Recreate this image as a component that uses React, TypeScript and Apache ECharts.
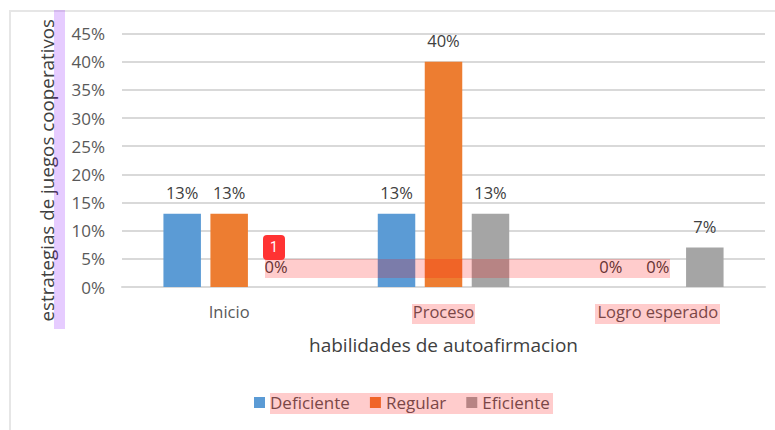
import React, { useEffect, useRef } from "react";
import * as echarts from "echarts";

const categories = ["Inicio", "Proceso", "Logro esperado"];
const deficiente = [13, 13, 0];
const regular = [13, 40, 0];
const eficiente = [0, 13, 7];
const yTitle = "estrategias de juegos cooperativos";
const xTitle = "habilidades de autoafirmacion";
const FONT = "Open Sans";

const pink = "rgba(255,0,0,0.2)";
const highlightBoxes = [
  [265, 259, 405, 19],
  [412, 304, 63, 20],
  [595, 304, 125, 20],
  [270, 393, 283, 21],
];

function bar(name: string, data: number[], color: string) {
  return {
    name,
    type: "bar",
    data,
    barWidth: 37.5,
    barGap: "25.3%",
    itemStyle: { color },
    label: {
      show: true,
      position: "top",
      distance: 12.5,
      formatter: "{c}%",
      fontFamily: FONT,
      fontSize: 16.5,
      color: "#404040",
    },
  };
}

export default function App() {
  const ref = useRef<HTMLDivElement>(null);
  useEffect(() => {
    const chart = echarts.init(ref.current!, null, { renderer: "svg" });
    chart.setOption({
      animation: false,
      backgroundColor: "#ffffff",
      textStyle: { fontFamily: FONT },
      grid: { left: 122, right: 10, top: 33.5, bottom: 143 },
      legend: {
        left: 249,
        top: 389,
        itemWidth: 11,
        itemHeight: 11,
        itemGap: 20,
        icon: "rect",
        textStyle: { fontFamily: FONT, fontSize: 17, color: "#595959" },
        data: ["Deficiente", "Regular", "Eficiente"],
      },
      xAxis: {
        type: "category",
        data: categories,
        name: xTitle,
        nameLocation: "middle",
        nameGap: 48,
        nameTextStyle: { fontFamily: FONT, fontSize: 19, color: "#404040" },
        axisTick: { show: false },
        axisLine: { lineStyle: { color: "#d9d9d9", width: 2 } },
        axisLabel: { fontFamily: FONT, fontSize: 16.5, color: "#595959", margin: 16 },
      },
      yAxis: {
        type: "value",
        min: 0,
        max: 45,
        interval: 5,
        name: yTitle,
        nameLocation: "middle",
        nameGap: 66,
        nameTextStyle: { fontFamily: FONT, fontSize: 18.8, color: "#404040", padding: [0, 20, 0, 0] },
        axisLine: { show: false },
        axisTick: { show: false },
        splitLine: { lineStyle: { color: "#d9d9d9", width: 2 } },
        axisLabel: { fontFamily: FONT, fontSize: 17, color: "#595959", formatter: "{value}%", margin: 17 },
      },
      series: [
        bar("Deficiente", deficiente, "#5B9BD5"),
        bar("Regular", regular, "#ED7D31"),
        bar("Eficiente", eficiente, "#A5A5A5"),
      ],
      graphic: [
        { type: "rect", z: 0, shape: { x: 10, y: 10, width: 765, height: 2 }, style: { fill: "#e6e6e6" } },
        { type: "rect", z: 0, shape: { x: 9, y: 10, width: 2, height: 420 }, style: { fill: "#e6e6e6" } },
        { type: "rect", z: 100, shape: { x: 54, y: 10, width: 11, height: 319 }, style: { fill: "rgba(128,0,255,0.2)" } },
        ...highlightBoxes.map(([x, y, width, height]) => ({
          type: "rect",
          z: 100,
          shape: { x, y, width, height },
          style: { fill: pink },
        })),
        { type: "rect", z: 101, shape: { x: 263, y: 235, width: 22, height: 25, r: 4 }, style: { fill: "#ff3333" } },
        {
          type: "text",
          z: 102,
          x: 274,
          y: 247,
          style: { text: "1", fill: "#ffffff", fontSize: 14, fontFamily: "Roboto", align: "center", verticalAlign: "middle" },
        },
      ],
    });
    return () => chart.dispose();
  }, []);
  return <div ref={ref} style={{ position: "absolute", left: 0, top: 0, width: 775, height: 430 }} />;
}
